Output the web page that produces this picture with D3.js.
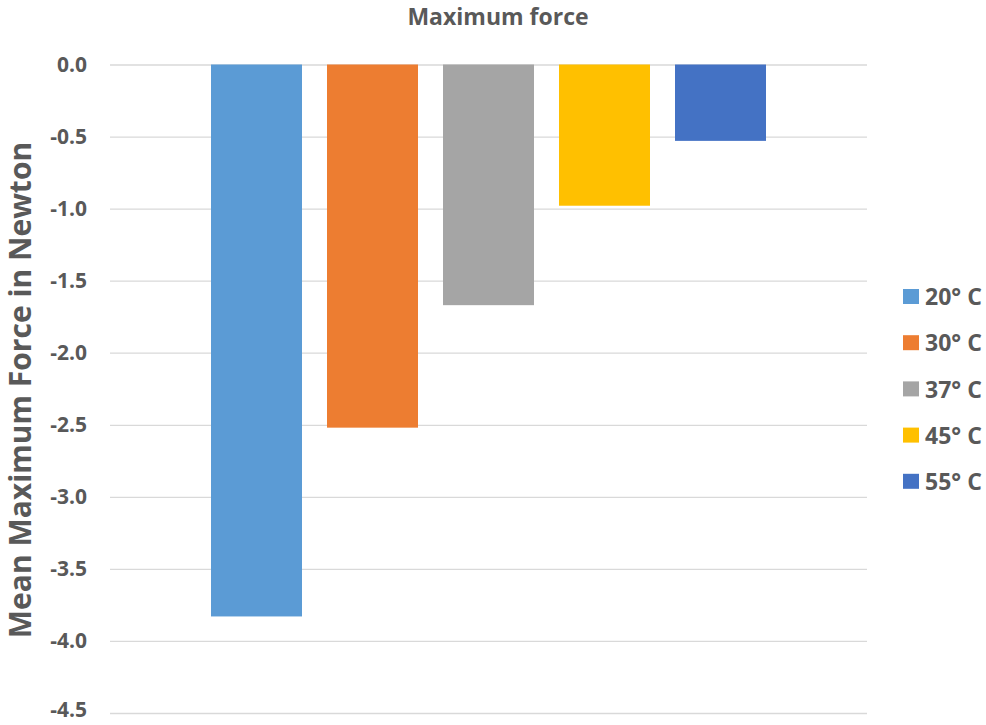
<!DOCTYPE html>
<meta charset="utf-8">
<style>
  body { margin: 0; background: #fff; }
  text { font-family: "Open Sans", "Liberation Sans", sans-serif; font-weight: bold; fill: #595959; }
</style>
<svg width="986" height="725"></svg>
<script src="https://d3js.org/d3.v7.min.js"></script>
<script>

var series = ["20° C", "30° C", "37° C", "45° C", "55° C"],
    values = [-3.83, -2.52, -1.67, -0.98, -0.53],
    colors = ["#5b9bd5", "#ed7d31", "#a5a5a5", "#ffc000", "#4472c4"],
    ticks = [0, -0.5, -1, -1.5, -2, -2.5, -3, -3.5, -4, -4.5];

var svg = d3.select("svg");

var y = d3.scaleLinear().domain([0, -4.5]).range([64.5, 713]);

var x = d3.scaleBand()
    .domain(series)
    .range([211, 766])
    .paddingInner(0.2155)
    .paddingOuter(0);

// gridlines
svg.append("g")
    .attr("transform", "translate(110,0)")
    .call(d3.axisLeft(y).tickValues(ticks).tickSize(-757).tickFormat(""))
    .call(function(g) {
      g.select(".domain").remove();
      g.selectAll("line").attr("stroke", "#d9d9d9").attr("stroke-width", 1.3);
    });

// tick labels
svg.append("g")
    .selectAll("text")
    .data(ticks)
    .enter().append("text")
    .attr("x", 87)
    .attr("y", function(d) { return Math.min(y(d), 710); })
    .attr("dy", "0.35em")
    .attr("text-anchor", "end")
    .style("font-size", "21px")
    .text(function(d) { return d3.format(".1f")(d).replace("−", "-"); });

// bars
svg.append("g")
    .selectAll("rect")
    .data(values)
    .enter().append("rect")
    .attr("x", function(d, i) { return x(series[i]); })
    .attr("width", x.bandwidth())
    .attr("y", y(0))
    .attr("height", function(d) { return y(d) - y(0); })
    .attr("fill", function(d, i) { return colors[i]; });

// title
svg.append("text")
    .attr("x", 498)
    .attr("y", 25)
    .attr("text-anchor", "middle")
    .style("font-size", "23px")
    .text("Maximum force");

// y axis title
svg.append("text")
    .attr("transform", "translate(31,390) rotate(-90)")
    .attr("text-anchor", "middle")
    .style("font-size", "30px")
    .text("Mean Maximum Force in Newton");

// legend
var legend = svg.append("g")
    .selectAll("g")
    .data(series)
    .enter().append("g")
    .attr("transform", function(d, i) { return "translate(903," + (297 + i * 46.2) + ")"; });

legend.append("rect")
    .attr("x", 0)
    .attr("y", -8)
    .attr("width", 16)
    .attr("height", 15)
    .attr("fill", function(d, i) { return colors[i]; });

legend.append("text")
    .attr("x", 22)
    .attr("dy", "0.36em")
    .style("font-size", "23px")
    .text(function(d) { return d; });

</script>
